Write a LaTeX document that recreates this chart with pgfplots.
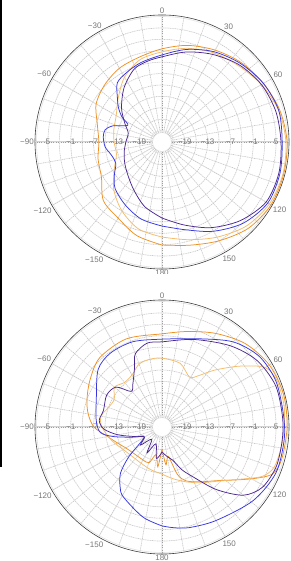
\documentclass[border=0pt]{standalone}
\usepackage{fontspec}
\setmainfont{Liberation Sans}
\usepackage{pgfplots}
\usepackage{pgfplotstable}
\pgfplotsset{compat=1.18}
\usepgfplotslibrary{polar}

\definecolor{labgray}{RGB}{120,120,120}
\definecolor{cblue}{RGB}{55,55,225}
\definecolor{cpurple}{RGB}{75,40,145}
\definecolor{corange}{RGB}{238,145,35}
\definecolor{clight}{RGB}{246,188,105}

% compass angle a (deg, clockwise from top), gain g (dB)
\pgfplotstableread{
a g
-180 2.1
-165 0.5
-150 -1.9
-135 -3.2
-120 -6.6
-105 -7.6
-90 -8.4
-75 -7.4
-60 -5.0
-45 -3.7
-30 -2.6
-15 -1.9
0 -0.5
15 1.3
30 2.9
45 4.5
60 5.8
75 7.1
90 7.9
105 8.1
120 8.1
135 7.1
150 5.0
165 3.1
180 2.1
}\tA
\pgfplotstableread{
a g
-180 0.0
-165 -1.3
-150 -4.0
-135 -7.1
-120 -10.5
-105 -12.6
-90 -12.4
-75 -11.9
-60 -11.1
-45 -8.7
-30 -5.3
-15 -2.6
0 -1.3
15 0.5
30 2.1
45 3.4
60 5.2
75 6.8
90 7.6
105 7.9
120 7.6
135 6.3
150 3.9
165 1.6
180 0.0
}\tB
\pgfplotstableread{
a g
-180 -2.9
-165 -4.0
-150 -5.8
-135 -7.6
-125 -9.7
-115 -11.6
-105 -11.3
-95 -10.0
-85 -9.5
-78 -9.7
-72 -11.3
-64 -15.0
-58 -12.6
-52 -10.5
-45 -8.4
-37 -5.5
-27 -4.5
-15 -3.4
0 -2.1
15 0.2
30 2.4
45 4.2
60 5.8
75 6.8
90 6.6
105 7.1
120 7.1
135 5.2
150 2.1
165 -1.1
180 -2.9
}\tC
\pgfplotstableread{
a g
-180 -5.0
-165 -7.4
-150 -10.3
-135 -12.4
-120 -13.7
-105 -14.7
-90 -15.5
-75 -15.8
-63 -14.0
-50 -11.1
-35 -7.6
-21 -4.5
-10 -3.4
0 -2.6
15 -0.5
30 1.6
45 3.7
60 5.2
75 6.0
90 6.3
105 6.8
120 6.6
135 4.2
150 1.0
165 -2.4
180 -5.0
}\tD
% lower chart
\pgfplotstableread{
a g
-180 -19.2
-174 -14.5
-168 -17.6
-160 -15.0
-150 -15.0
-140 -15.0
-130 -14.7
-120 -14.0
-110 -12.6
-100 -10.5
-90 -7.1
-80 -5.3
-70 -4.0
-57 -2.4
-42 -0.5
-22 0.0
0 -0.5
15 1.0
30 3.4
45 6.0
60 7.6
75 8.1
90 7.9
105 7.6
113 6.6
119 2.9
126 -1.3
134 -4.7
145 -7.4
156 -9.5
162 -11.9
168 -17.1
174 -15.0
180 -19.2
}\bA
\pgfplotstableread{
a g
-180 -12.6
-165 -13.4
-150 -14.0
-135 -14.0
-120 -13.2
-105 -11.3
-90 -9.2
-80 -8.7
-70 -10.0
-60 -10.5
-50 -8.7
-40 -9.7
-30 -9.2
-20 -7.4
-10 -6.9
0 -6.9
16 -7.6
29 -10.0
36 -8.2
43 -4.5
52 1.0
60 6.3
68 7.6
80 7.6
90 7.1
100 6.8
110 6.3
116 4.5
121 1.3
127 -1.9
134 -4.5
145 -7.1
156 -9.2
168 -11.1
180 -12.6
}\bB
\pgfplotstableread{
a g
-180 1.0
-168 -0.8
-151 -4.0
-145 -5.8
-138 -8.7
-132 -13.2
-125 -18.4
-117 -19.7
-109 -16.8
-101 -11.9
-95 -8.7
-84 -7.6
-66 -6.1
-48 -2.4
-35 -1.3
-19 -1.3
0 -1.9
23 0.2
40 4.2
54 6.6
68 7.3
84 7.1
96 7.3
112 7.3
129 5.8
150 3.4
165 2.4
174 1.6
180 1.0
}\bC
\pgfplotstableread{
a g
-180 -18.4
-170 -16.6
-160 -20.3
-150 -17.1
-140 -20.8
-130 -17.6
-120 -19.7
-110 -17.6
-100 -13.2
-92 -9.7
-84 -8.4
-74 -9.0
-60 -8.2
-49 -9.0
-41 -12.6
-34 -11.3
-25 -7.9
-20 -4.5
-10 -2.6
0 -2.6
20 -0.5
40 2.9
55 5.5
70 6.8
85 6.8
96 6.8
109 6.8
121 5.8
130 2.9
139 -3.2
148 -9.5
155 -12.6
162 -15.8
170 -17.1
180 -18.4
}\bD

\tikzset{
  lab/.style={font=\fontsize{8}{9}\selectfont, text=labgray, inner sep=0.5pt},
  crv/.style={line width=0.75pt, smooth},
  dgrid/.style={gray!75, dotted, line width=0.4pt},
}
\pgfplotsset{
  myp/.style={
    scale only axis, width=254pt, height=254pt, anchor=center,
    xmin=0, xmax=360, ymin=0, ymax=33.4,
    xtick={0,30,...,330},
    xticklabels={,60,30,0,−30,−60,−90,−120,−150,180,150,120},
    minor xtick={0,10,...,350},
    ytick={6,12,18,24,30},
    minor ytick={3,9,15,21,27,33},
    yticklabels={},
    grid=both,
    major grid style={gray!22, line width=0.6pt},
    minor grid style={gray!22, line width=0.6pt},
    axis line style={draw=black!75, line width=0.6pt},
    y axis line style={draw=gray!35, line width=1pt},
    tick style={draw=none},
    xticklabel style={font=\fontsize{8}{9}\selectfont, text=labgray, inner sep=1pt},
    /pgf/number format/assume math mode=true,
    clip=false,
  },
}

\begin{document}
\begin{tikzpicture}[x=1pt,y=1pt]
\fill[white] (0,0) rectangle (291,561);
\useasboundingbox (0,0) rectangle (291,561);
\fill[black] (0,94) rectangle (1.5,561);

\begin{polaraxis}[myp, at={(162pt,419pt)}]
  \pgfplotsinvokeforeach{0,10,...,350}{\draw[dgrid] (axis cs:#1,2.6) -- (axis cs:#1,33.4);}
  \pgfplotsinvokeforeach{1,...,10}{\draw[dgrid] (axis cs:0,0) circle[radius=#1*11.407pt];}
  \fill[white, draw=gray!30] (axis cs:0,0) circle[radius=9.5pt];
  \draw[gray!35, line width=1pt] (axis cs:0,2.6) -- (axis cs:0,33.4);
  \draw[gray!35, line width=1pt] (axis cs:180,2.6) -- (axis cs:180,33.4);
  \node[lab] at (axis cs:0,6) {−19};
  \node[lab] at (axis cs:0,12) {−13};
  \node[lab] at (axis cs:0,18) {−7};
  \node[lab] at (axis cs:0,24) {−1};
  \node[lab] at (axis cs:0,30) {5};
  \node[lab] at (axis cs:180,6) {−19};
  \node[lab] at (axis cs:180,12) {−13};
  \node[lab] at (axis cs:180,18) {−7};
  \node[lab] at (axis cs:180,24) {−1};
  \node[lab] at (axis cs:180,30) {5};
  \addplot[crv, corange] table[x expr=90-\thisrow{a}, y expr=\thisrow{g}+25] {\tA};
  \addplot[crv, clight] table[x expr=90-\thisrow{a}, y expr=\thisrow{g}+25] {\tB};
  \addplot[crv, cblue] table[x expr=90-\thisrow{a}, y expr=\thisrow{g}+25] {\tC};
  \addplot[crv, cpurple] table[x expr=90-\thisrow{a}, y expr=\thisrow{g}+25] {\tD};
\end{polaraxis}

\fill[white] (115,276) rectangle (210,287);

\begin{polaraxis}[myp, at={(162pt,134pt)}]
  \pgfplotsinvokeforeach{0,10,...,350}{\draw[dgrid] (axis cs:#1,2.6) -- (axis cs:#1,33.4);}
  \pgfplotsinvokeforeach{1,...,10}{\draw[dgrid] (axis cs:0,0) circle[radius=#1*11.407pt];}
  \fill[white, draw=gray!30] (axis cs:0,0) circle[radius=9.5pt];
  \draw[gray!35, line width=1pt] (axis cs:0,2.6) -- (axis cs:0,33.4);
  \draw[gray!35, line width=1pt] (axis cs:180,2.6) -- (axis cs:180,33.4);
  \node[lab] at (axis cs:0,6) {−19};
  \node[lab] at (axis cs:0,12) {−13};
  \node[lab] at (axis cs:0,18) {−7};
  \node[lab] at (axis cs:0,24) {−1};
  \node[lab] at (axis cs:0,30) {5};
  \node[lab] at (axis cs:180,6) {−19};
  \node[lab] at (axis cs:180,12) {−13};
  \node[lab] at (axis cs:180,18) {−7};
  \node[lab] at (axis cs:180,24) {−1};
  \node[lab] at (axis cs:180,30) {5};
  \addplot[crv, corange] table[x expr=90-\thisrow{a}, y expr=\thisrow{g}+25] {\bA};
  \addplot[crv, clight] table[x expr=90-\thisrow{a}, y expr=\thisrow{g}+25] {\bB};
  \addplot[crv, cblue] table[x expr=90-\thisrow{a}, y expr=\thisrow{g}+25] {\bC};
  \addplot[crv, cpurple] table[x expr=90-\thisrow{a}, y expr=\thisrow{g}+25] {\bD};
\end{polaraxis}
\end{tikzpicture}
\end{document}
